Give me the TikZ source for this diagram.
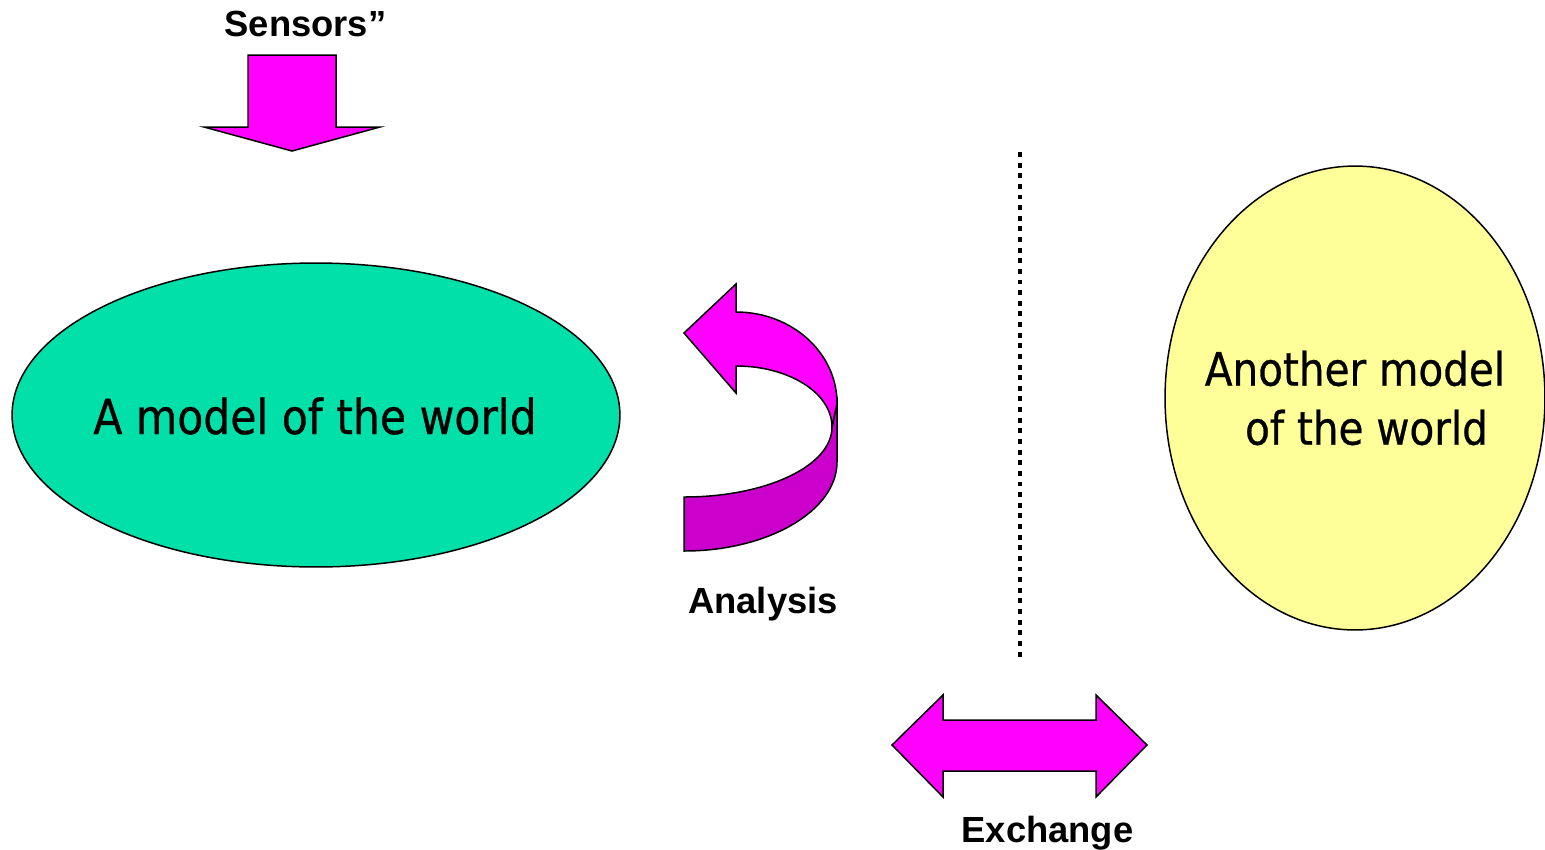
\documentclass[tikz,border=0pt]{standalone}
\usepackage{fontspec}
\usetikzlibrary{shapes.geometric}
\newfontfamily\capfont{Liberation Sans}
\newfontfamily\ovalfont[FakeStretch=0.88,FakeBold=0.6]{DejaVu Sans}
\definecolor{mint}{RGB}{0,224,168}
\definecolor{paleyellow}{RGB}{255,255,153}
\definecolor{magentabright}{RGB}{255,0,255}
\definecolor{magentadark}{RGB}{204,0,204}

\begin{document}
\begin{tikzpicture}[x=0.02cm,y=-0.02cm,
  outline/.style={draw=black, line width=0.85pt, line join=miter},
  blockarrow/.style={outline, fill=magentabright},
  caption/.style={font=\capfont\bfseries\fontsize{20.7}{24}\selectfont, inner sep=0pt, anchor=base},
  oval/.style={ellipse, outline, inner sep=0pt},
  ovaltext/.style={inner sep=0pt, align=center},
]
\useasboundingbox (0,0) rectangle (1545,849);

% the two world models
\node[oval, fill=mint, minimum width=12.16cm, minimum height=6.08cm] (model) at (316,415) {};
\node[ovaltext, font=\ovalfont\fontsize{27.5}{33}\selectfont] (modeltext) at (315,416) {A model of the world};

\node[oval, fill=paleyellow, minimum width=7.6cm, minimum height=9.28cm] (other) at (1355,398) {};
\node[ovaltext, font=\ovalfont\fontsize{26.2}{33.6}\selectfont] (othertext) at (1355,398) {Another model\\\hspace*{0.5em}of the world};

% sensors input arrow
\node[caption] (sensors) at (305.5,36) {Sensors”};
\draw[blockarrow] (248,55) -- (336,55) -- (336,127) -- (380,127) -- (292,151) -- (204,127) -- (248,127) -- cycle;

% curved analysis arrow: lower ribbon, then upper face with the head
\draw[outline, fill=magentadark] (832,427) -- (837,403) -- (837,462)
  .. controls (837,511) and (768,551) .. (684,551) -- (684,497)
  .. controls (766,497) and (832,466) .. (832,427) -- cycle;
\draw[outline, fill=magentabright] (736,312) .. controls (792,312) and (837,353) .. (837,403)
  -- (832,427) .. controls (832,393) and (789,366) .. (736,366)
  -- (736,393) -- (684,333) -- (736,284) -- cycle;
\node[caption] (analysis) at (763,613) {Analysis};

% dotted divider
\coordinate (divtop) at (1020,152);
\coordinate (divbot) at (1020,657);
\draw[line width=2.8pt, dash pattern=on 2.8pt off 3.25pt] (divtop) -- (divbot);

% exchange double arrow
\draw[blockarrow] (892,745) -- (943,695) -- (943,720) -- (1096,720) -- (1096,695) -- (1147,745)
  -- (1096,797) -- (1096,771) -- (943,771) -- (943,797) -- cycle;
\node[caption] (exchange) at (1047.5,842) {Exchange};
\end{tikzpicture}
\end{document}
